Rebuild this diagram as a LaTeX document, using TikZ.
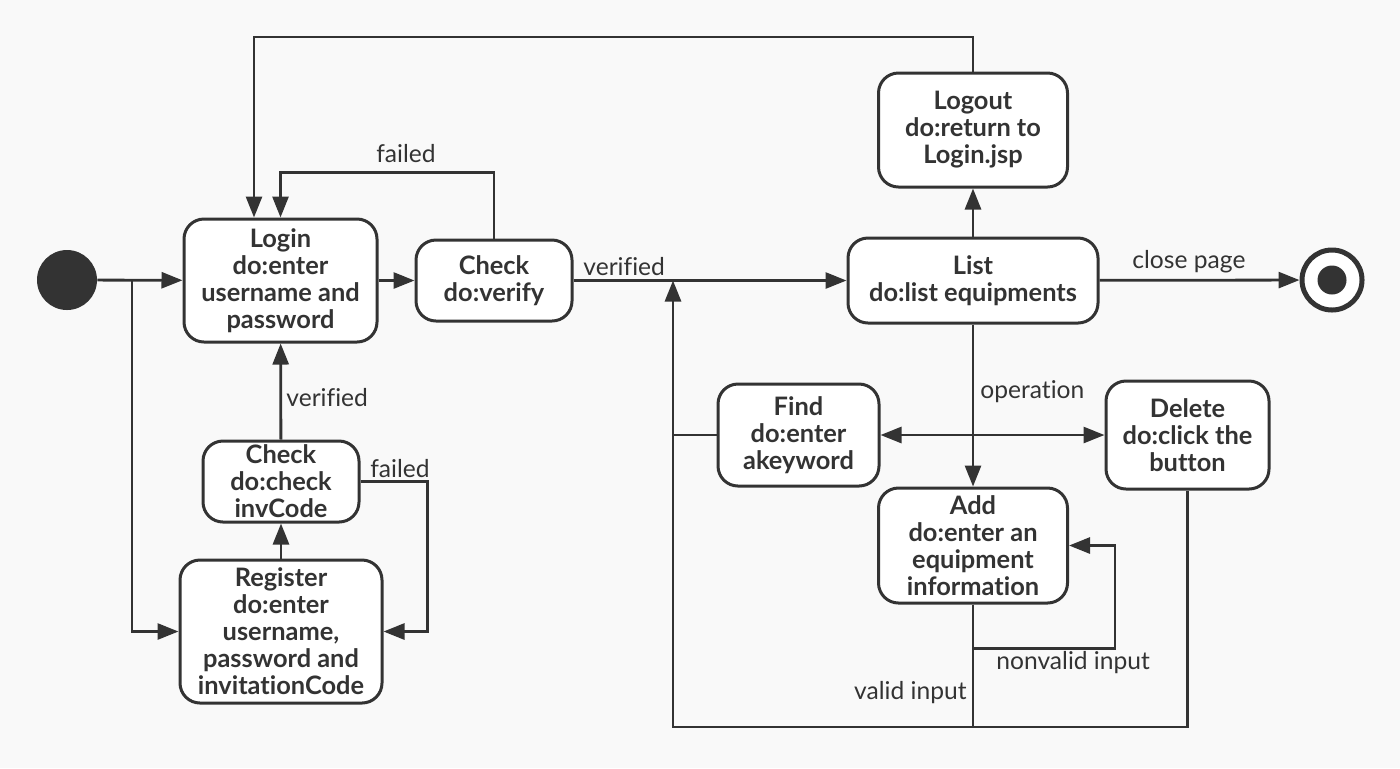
\documentclass[tikz,border=0pt]{standalone}
\usepackage{fontspec}
\setmainfont{Lato}[Ligatures=NoCommon]
\usepackage{tikz}
\usetikzlibrary{calc,arrows.meta}
\definecolor{ink}{HTML}{333333}
\definecolor{paper}{HTML}{F9F9F9}

\begin{document}
\begin{tikzpicture}[x=0.5pt,y=-0.5pt]
        \tikzstyle{state}=[draw=ink, line width=1.5pt, fill=white, rounded corners=10pt, align=center, inner sep=0pt, text=ink, font=\bfseries\fontsize{12.7}{13.5}\selectfont];
        \tikzstyle{arr}=[draw=ink, line width=1.4pt, -{Triangle[length=10.5pt,width=8pt]}];
        \tikzstyle{line}=[draw=ink, line width=1.4pt];
        \tikzstyle{lbl}=[text=ink, inner sep=0pt, font=\fontsize{12.3}{13}\selectfont];
        \fill[paper] (0,0) rectangle (1400,768);
        \useasboundingbox (0,0) rectangle (1400,768);
        % states
        \node[circle, fill=ink, minimum size=30pt, inner sep=0pt] (init) at (67,280) {};
        \node[state, minimum width=96.5pt, minimum height=61.5pt] (login) at (280.5,280.5) {Login\\do:enter\\username and\\password};
        \node[state, minimum width=78pt, minimum height=40.5pt] (chk) at (494,280.5) {Check\\do:verify};
        \node[state, minimum width=125pt, minimum height=42.5pt] (list) at (973,280.5) {List\\do:list equipments};
        \node[state, minimum width=94.5pt, minimum height=57pt] (logout) at (973,130) {Logout\\do:return to\\Login.jsp};
        \node[circle, draw=ink, line width=2.5pt, fill=white, minimum size=30pt, inner sep=0pt] (fin) at (1332,280) {};
        \node[circle, fill=ink, minimum size=14.5pt, inner sep=0pt] (findot) at (fin) {};
        \node[state, minimum width=78pt, minimum height=40.5pt] (chkinv) at (281,481.5) {Check\\do:check\\invCode};
        \node[state, minimum width=101pt, minimum height=71.5pt] (reg) at (281,631.5) {Register\\do:enter\\username,\\password and\\invitationCode};
        \node[state, minimum width=80.5pt, minimum height=51pt] (find) at (798.5,435) {Find\\do:enter\\akeyword};
        \node[state, minimum width=81.5pt, minimum height=54pt] (del) at (1187.5,435) {Delete\\do:click the\\button};
        \node[state, minimum width=94.5pt, minimum height=57.5pt] (add) at (973,545.5) {Add\\do:enter an\\equipment\\information};
        \coordinate (fork) at (132,280);
        \coordinate (top) at (254,37);
        \coordinate (back) at (673,727);
        % transitions
        \draw[arr] (init) -- (login);
        \draw[arr] (fork) |- (reg.west);
        \draw[arr] (logout.north) |- (top) -- (top |- login.north);
        \draw[arr] (login) -- (chk);
        \draw[arr] (chk.north) -- ++(0,-66) -| (login.north);
        \draw[arr] (chk) -- (list);
        \draw[arr] (list) -- (logout);
        \draw[arr] (list) -- (fin);
        \draw[arr] (list) -- (add);
        \draw[arr, {Triangle[length=10.5pt,width=8pt]}-{Triangle[length=10.5pt,width=8pt]}] (find) -- (del);
        \draw[arr] (add.south) -- ++(0,44) -| ($(add.east)+(46,0)$) -- (add.east);
        \draw[line] (add.south) -- (add.south |- back);
        \draw[arr] (del.south) |- (back) -- (back |- chk.east);
        \draw[line] (find.west) -- (find.west -| back);
        \draw[arr] (chkinv) -- (login);
        \draw[arr] (reg) -- (chkinv);
        \draw[arr] (chkinv.east) -- ++(67,0) |- (reg.east);
        % labels
        \node[lbl, anchor=base] at (406,162) {failed};
        \node[lbl, anchor=base west] at (583,275) {verified};
        \node[lbl, anchor=base west] at (1132,268) {close page};
        \node[lbl, anchor=base west] at (980,398) {operation};
        \node[lbl, anchor=base west] at (286,406) {verified};
        \node[lbl, anchor=base west] at (370,477) {failed};
        \node[lbl, anchor=base west] at (996,669) {nonvalid input};
        \node[lbl, anchor=base east] at (967,699) {valid input};
    \end{tikzpicture}
\end{document}
